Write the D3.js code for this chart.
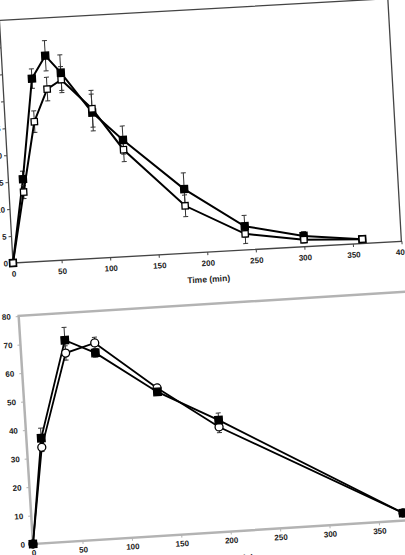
<!DOCTYPE html>
<html>
<head>
<meta charset="utf-8">
<script src="https://cdnjs.cloudflare.com/ajax/libs/d3/7.8.5/d3.min.js"></script>
<style>
  body { margin: 0; background: #fff; overflow: hidden; }
  svg { display: block; }
  .tick text { font-family: 'Liberation Sans', Arial, sans-serif; font-weight: bold; font-size: 8px; fill: #222; }
  .axis-title { font-family: 'Liberation Sans', Arial, sans-serif; font-weight: bold; font-size: 8.5px; fill: #222; }
</style>
</head>
<body>
<div class="chart"></div>
<script>
// ---- data ----
// upper panel
const timeTop = [0, 15, 30, 45, 60, 90, 120, 180, 240, 300, 360];
const filledTop = [0, 15.4, 33.9, 38.0, 34.7, 27.0, 21.6, 11.9, 4.4, 2.0, 0.8];
const openTop = [0, 13.0, 25.9, 31.8, 33.4, 27.7, 19.8, 8.8, 3.0, 1.3, 0.8];
const errFilledTop = [0, 1.5, 1.8, 2.8, 3.3, 3.4, 2.6, 3.0, 2.0, 0.8, 0.3];
const errOpenTop = [0, 1.2, 2.0, 2.2, 2.4, 3.4, 2.2, 2.0, 1.8, 0.6, 0.3];
const yTicksTop = [0, 5, 10, 15, 20, 25, 30, 35, 40, 45];

// lower panel
const timeBot = [0, 15, 45, 75, 135, 195, 375];
const filledBot = [0, 36.8, 70.5, 65.4, 50.4, 39.2, 2.7];
const openBot = [0, 33.6, 66.0, 68.9, 51.8, 36.8, 2.7];
const errFilledBot = [0, 3.5, 4.5, 1.5, 1.2, 2.5, 0.5];
const errOpenBot = [0, 1.5, 2.5, 2.0, 1.2, 2.0, 0.5];
const yTicksBot = [0, 10, 20, 30, 40, 50, 60, 70, 80];

const xTicks = [0, 50, 100, 150, 200, 250, 300, 350, 400];

const svg = d3.select('.chart')
    .append('svg')
    .attr('width', 405)
    .attr('height', 555);

function zip(t, v, e) {
    return t.map((d, i) => ({ t: d, v: v[i], e: e[i] }));
}

// the scan is tilted a little, so each panel is drawn in its own rotated group
function drawPanel(p) {
    let g = svg.append('g')
        .attr('transform', `translate(${p.ox},${p.oy}) rotate(${-p.angle}) translate(0,${-p.height})`);

    let x = d3.scaleLinear().domain([0, 400]).range([0, p.width]);
    let y = d3.scaleLinear().domain([0, p.yMax]).range([p.height, 0]);

    // frame
    g.append('rect')
        .attr('width', p.width)
        .attr('height', p.height)
        .style('fill', 'none')
        .style('stroke', p.frame)
        .style('stroke-width', p.frameWidth);

    // axes
    let xAxis = d3.axisBottom(x).tickValues(xTicks).tickSizeInner(3).tickSizeOuter(0).tickPadding(p.xPad);
    let yAxis = d3.axisLeft(y).tickValues(p.yTicks).tickSizeInner(3).tickSizeOuter(0).tickPadding(p.yPad);

    let gx = g.append('g')
        .attr('transform', 'translate(0,' + p.height + ')')
        .call(xAxis);
    let gy = g.append('g').call(yAxis);
    [gx, gy].forEach(a => {
        a.select('.domain').remove();
        a.selectAll('.tick line').style('stroke', p.frame).style('stroke-width', 1);
    });

    // axis titles
    g.append('text')
        .attr('class', 'axis-title')
        .attr('text-anchor', 'middle')
        .attr('x', x(200))
        .attr('y', p.height + p.titleGap)
        .text('Time (min)');

    if (p.yTitle) {
        g.append('text')
            .attr('class', 'axis-title')
            .attr('text-anchor', 'middle')
            .attr('transform', 'translate(' + p.yTitleX + ',' + (p.height / 2 + 20) + ')rotate(-90)')
            .text(p.yTitle);
    }

    let line = d3.line().x(d => x(d.t)).y(d => y(d.v));

    p.series.forEach(s => {
        // error bars
        let eb = g.append('g').selectAll('g')
            .data(s.data.filter(d => d.e > 0))
            .enter().append('g')
            .style('stroke', '#333')
            .style('stroke-width', 1);
        eb.append('line')
            .attr('x1', d => x(d.t)).attr('x2', d => x(d.t))
            .attr('y1', d => y(d.v + d.e)).attr('y2', d => y(d.v - d.e));
        eb.append('line')
            .attr('x1', d => x(d.t) - 2.5).attr('x2', d => x(d.t) + 2.5)
            .attr('y1', d => y(d.v + d.e)).attr('y2', d => y(d.v + d.e));
        eb.append('line')
            .attr('x1', d => x(d.t) - 2.5).attr('x2', d => x(d.t) + 2.5)
            .attr('y1', d => y(d.v - d.e)).attr('y2', d => y(d.v - d.e));

        g.append('path')
            .datum(s.data)
            .attr('d', line)
            .style('fill', 'none')
            .style('stroke', '#000')
            .style('stroke-width', p.lineWidth);
    });

    // markers on top of all lines
    p.series.forEach(s => {
        let sym = d3.symbol().type(s.shape).size(s.size);
        g.append('g').selectAll('path')
            .data(s.data)
            .enter().append('path')
            .attr('d', sym)
            .attr('transform', d => 'translate(' + x(d.t) + ',' + y(d.v) + ')')
            .style('fill', s.fill)
            .style('stroke', '#000')
            .style('stroke-width', 1.3);
    });
}

drawPanel({
    ox: 13, oy: 263, angle: 3.2,
    width: 389, height: 243, yMax: 45, yTicks: yTicksTop,
    frame: '#444', frameWidth: 1.3,
    xPad: 5, yPad: 2, titleGap: 30, lineWidth: 2,
    series: [
        { data: zip(timeTop, filledTop, errFilledTop), shape: d3.symbolSquare, size: 50, fill: '#000' },
        { data: zip(timeTop, openTop, errOpenTop), shape: d3.symbolSquare, size: 40, fill: '#fff' }
    ]
});

drawPanel({
    ox: 33, oy: 544, angle: 3.6,
    width: 396, height: 228.5, yMax: 80, yTicks: yTicksBot,
    frame: '#b3b3b3', frameWidth: 2.5,
    xPad: 3, yPad: 5, titleGap: 30, lineWidth: 1.8,
    yTitle: 'Concentration (%)', yTitleX: -30,
    series: [
        { data: zip(timeBot, openBot, errOpenBot), shape: d3.symbolCircle, size: 50, fill: '#fff' },
        { data: zip(timeBot, filledBot, errFilledBot), shape: d3.symbolSquare, size: 55, fill: '#000' }
    ]
});
</script>
</body>
</html>
